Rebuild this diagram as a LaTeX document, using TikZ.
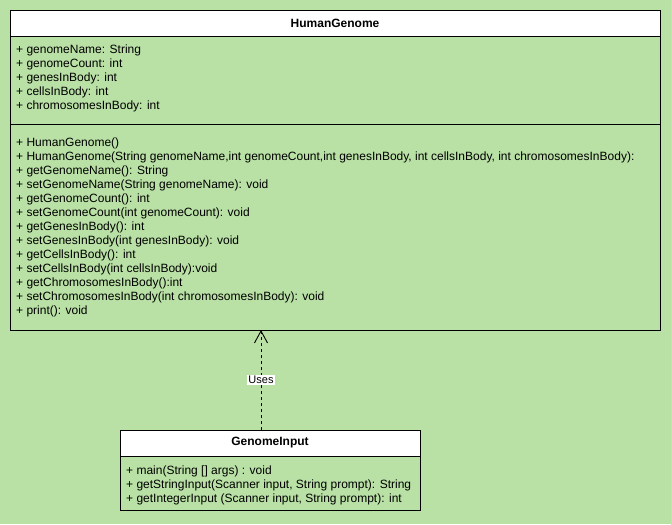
\documentclass[tikz,border=0pt]{standalone}
\usepackage{fontspec}
\setmainfont{Liberation Sans}
\usetikzlibrary{arrows.meta}
\definecolor{umlgreen}{HTML}{B9E0A5}
\begin{document}
\begin{tikzpicture}[x=1pt,y=-1pt,
  compart/.style={draw=black, line width=0.9pt, rectangle, inner sep=0pt, fill=umlgreen},
  header/.style={compart, fill=white, font=\fontsize{12}{14}\selectfont\bfseries},
  members/.style={anchor=north west, align=left, inner sep=0pt,
    font=\fontsize{12}{14}\selectfont},
  usesline/.style={dashed, dash pattern=on 3pt off 3pt, line width=0.9pt,
    -{Straight Barb[length=12pt, width=13pt, line width=0.9pt]}},
  tag/.style={fill=white, inner sep=1.5pt, font=\fontsize{11}{13}\selectfont}]
  % canvas
  \fill[umlgreen] (0,0) rectangle (671,524);
  \useasboundingbox (0,0) rectangle (671,524);

  % class HumanGenome
  \node[compart, minimum width=650, minimum height=88] (hgAttr) at (335,80) {};
  \node[compart, minimum width=650, minimum height=206] (hgMeth) at (335,227) {};
  \node[header, minimum width=650, minimum height=26] (hgHead) at (335,23) {HumanGenome};
  \node[members] (hgAttrText) at (16,44.5) {%
    + genomeName: String\\
    + genomeCount: int\\
    + genesInBody: int\\
    + cellsInBody: int\\
    + chromosomesInBody: int};
  \node[members] (hgMethText) at (16,137.5) {%
    + HumanGenome()\\
    + HumanGenome(String genomeName,int genomeCount,int genesInBody, int cellsInBody, int chromosomesInBody):\\
    + getGenomeName(): String\\
    + setGenomeName(String genomeName): void\\
    + getGenomeCount(): int\\
    + setGenomeCount(int genomeCount): void\\
    + getGenesInBody(): int\\
    + setGenesInBody(int genesInBody): void\\
    + getCellsInBody(): int\\
    + setCellsInBody(int cellsInBody):void\\
    + getChromosomesInBody():int\\
    + setChromosomesInBody(int chromosomesInBody): void\\
    + print(): void};

  % class GenomeInput
  \node[compart, minimum width=300, minimum height=54] (giMeth) at (270,483) {};
  \node[header, minimum width=300, minimum height=26] (giHead) at (270,443) {GenomeInput};
  \node[members] (giMethText) at (126,465.5) {%
    + main(String [] args) : void\\
    + getStringInput(Scanner input, String prompt): String\\
    + getIntegerInput (Scanner input, String prompt): int};

  % dependency
  \coordinate (depStart) at (261,430);
  \coordinate (depEnd) at (261,330);
  \draw[usesline] (depStart) -- node[tag] (usesLabel) {Uses} (depEnd);
\end{tikzpicture}
\end{document}
